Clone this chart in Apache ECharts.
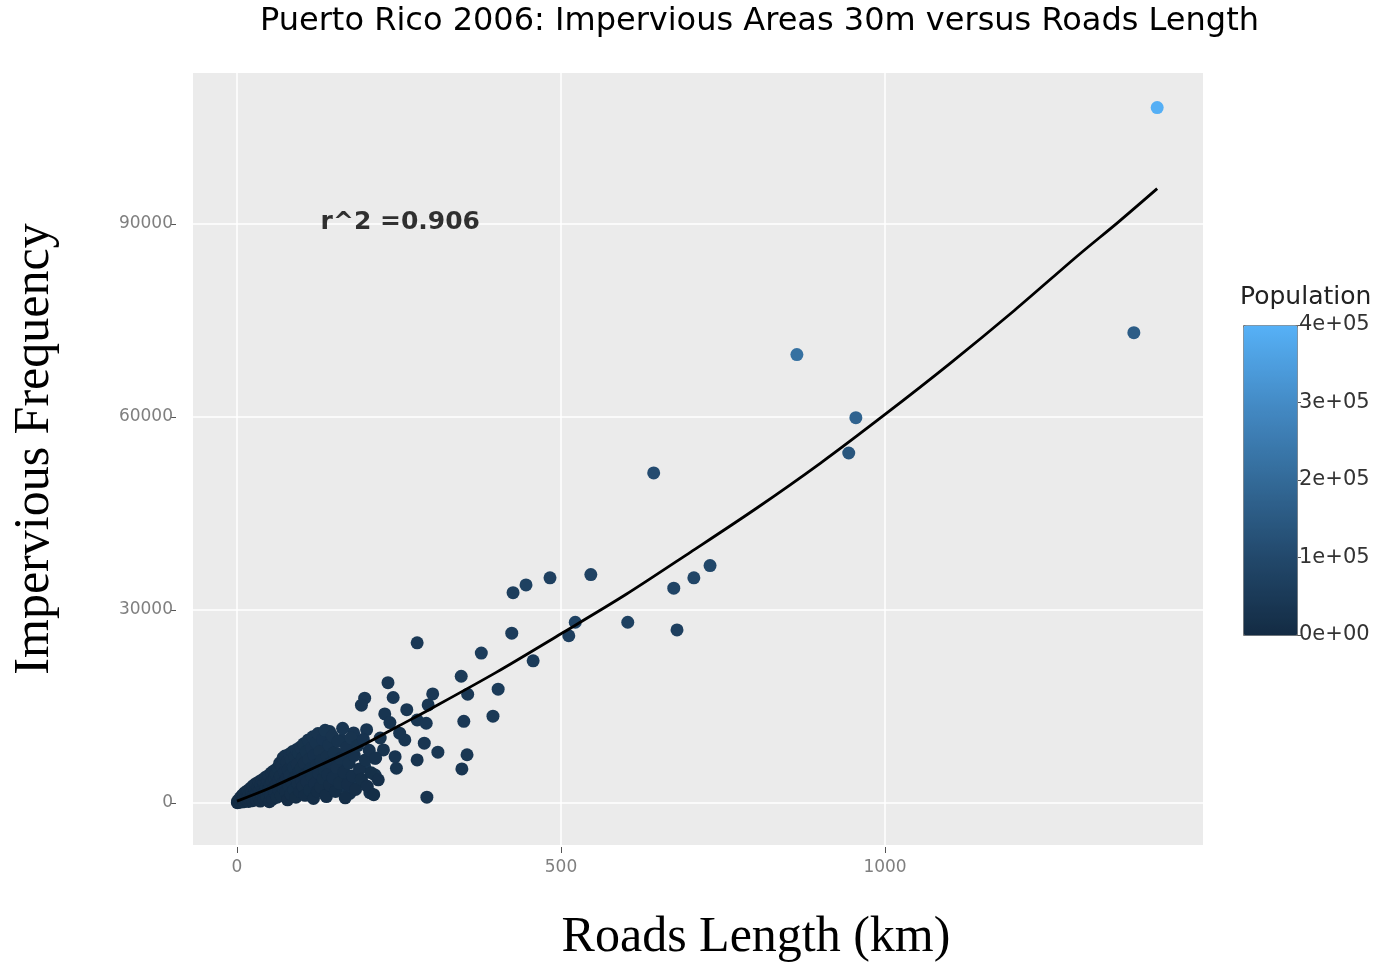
<!DOCTYPE html>
<html><head><meta charset="utf-8">
<script src="https://cdn.jsdelivr.net/npm/echarts@6/dist/echarts.min.js"></script>
<style>html,body{margin:0;padding:0;background:#fff}#c{width:1384px;height:962px}</style>
</head><body><div id="c"></div>
<script>
// ---- data ----
const roadsKm = [
  // large / outlying municipalities
  1420,1384,864,955,944,643,730,705,674,679,603,546,483,446,426,424,522,512,457,377,346,403,356,395,350,355,347,310,278,293,
  // middle band
  233,241,197,192,302,295,262,228,236,278,292,259,289,278,246,244,197,213,187,205,164,159,143,180,200,221,226,174,154,159,251,213,148,128,108,113,143,128,113,138,174,97,100,77,120,162,
  // dense cluster near the origin
  0.5,1,2,3,4,5,6,7,8,9,10,11,12,13,14,15,16,17,18,19,20,
  21,22,23,24,25,26,27,28,29,30,31,32,33,34,35,36,37,38,39,40,41,42,43,44,45,46,47,48,49,50,
  51,52,53,54,55,56,57,58,59,60,61,62,63,64,65,66,67,68,69,70,71,72,73,74,75,76,77,78,79,80,81,82,83,84,85,86,87,88,89,90,91,92,93,94,95,96,97,98,99,100,
  101,102,103,104,105,106,107,108,110,111,112,113,115,116,117,118,119,120,122,123,124,125,126,128,129,130,132,133,135,136,137,139,140,142,143,145,147,148,150,
  152,154,156,158,160,163,165,167,169,171,173,176,178,181,183,186,189,192,195,198,201,204,207,211,214,218
];
const imperviousFreq = [
  108100,73100,69700,59900,54400,51300,36900,35000,33400,26900,28100,35500,35000,33900,32700,26400,28100,26000,22100,23300,19700,17700,16900,13500,12700,7500,5300,7900,24900,900,
  18700,16400,16300,15200,16950,15250,14500,13850,12500,12900,12400,9800,9300,6700,5400,7200,5650,4350,3300,1600,4100,2550,11100,10900,11400,10100,8250,7700,7700,5150,10850,6950,6700,8750,9300,7750,3600,2550,1500,1000,1500,5150,8500,7200,9000,9800,
  50,300,100,500,250,800,150,600,1200,350,900,200,1600,700,1100,400,1900,900,250,1400,600,
  2300,1000,1700,350,2700,1300,750,2100,3000,500,1600,2500,1000,3300,1900,300,2800,1300,3600,2200,700,3100,1600,4000,2500,1000,3500,1900,4300,200,
  2800,1300,4700,3400,600,2200,5000,3900,1600,4500,2900,900,5500,3500,2000,6200,4200,1200,5800,3000,7000,2300,4800,7300,1700,3800,6400,500,5200,2700,7600,4300,1400,6800,3200,8000,5600,2100,7200,4000,900,8300,6000,3000,7800,4800,1800,8700,5400,3500,
  7000,2600,9200,6200,1200,4400,8000,3300,9800,6800,2000,5300,8600,4000,10300,700,7400,3000,9400,5900,1800,10800,4600,8000,2500,6600,9900,3800,5200,11300,1200,7300,4400,9000,2800,6200,10400,3900,7800,
  1800,5500,9600,3100,6900,11600,4800,800,8600,2900,6200,10100,4200,7400,2100,8900,5300,3700,9900,6700,2600,8200,4700,1300,7000,3600
];
const population = [
  395000,160000,220000,180000,140000,110000,95000,90000,85000,70000,75000,80000,70000,75000,65000,60000,80000,70000,55000,60000,50000,55000,45000,50000,45000,40000,35000,40000,45000,30000,
  40000,42000,38000,36000,45000,40000,38000,35000,36000,40000,42000,35000,38000,30000,28000,32000,30000,26000,25000,22000,24000,20000,30000,32000,34000,33000,30000,28000,27000,25000,36000,28000,26000,24000,27000,23000,18000,16000,12000,14000,15000,20000,26000,22000,25000,29000,
  1500,2500,1800,3000,2200,4000,2000,3500,5000,2800,4200,2400,6000,3800,4500,3000,7000,4300,2600,5200,3600,
  8000,5000,6500,3200,9000,5800,4100,7500,10000,3900,6800,8600,5300,11000,7200,3400,9500,6000,12000,8100,4700,10500,6900,13000,8800,5600,11500,7700,14000,3800,
  9500,6500,14000,11000,4800,8200,15000,12500,7000,13500,10000,5500,16000,11800,8500,18000,13000,6200,17000,10500,20000,9000,14500,21000,7800,12000,18500,4500,15500,9800,22000,13800,7200,19500,11200,23000,16500,8800,21000,12800,6000,24000,17500,10800,22500,14800,8000,25000,16000,12000,
  20000,10000,26000,18500,7500,14000,23000,12000,28000,19500,9000,16500,25000,13500,30000,6500,21500,11500,27000,17800,8500,31000,15000,23500,10500,19000,29000,13000,16000,33000,7000,21000,14500,26500,11000,18000,30500,13800,22500,
  9500,17000,27500,12500,20500,34000,15500,7000,25500,11500,19000,30000,14800,22000,10200,26000,17200,13200,29000,20800,11800,24500,16200,8800,21800,14000
];
// fitted curve
const fitRoadsKm    = [0, 50, 100, 150, 200, 250, 300, 400, 500, 600, 700, 800, 900, 1000, 1100, 1200, 1300, 1360, 1420];
const fitImpervious = [300, 2300, 4600, 6900, 9300, 12000, 14700, 20300, 26300, 32400, 39000, 45700, 52800, 60400, 68300, 76600, 85300, 90300, 95500];
const xTicks = [0, 500, 1000];
const yTicks = [0, 30000, 60000, 90000];
const popTicks = [0, 100000, 200000, 300000, 400000];
const titleText = 'Puerto Rico 2006: Impervious Areas 30m versus Roads Length';
const r2Text = 'r^2 =0.906';
const r2Pos = [252, 90300];

const points = roadsKm.map((x, i) => [x, imperviousFreq[i], population[i]]);
const fitLine = fitRoadsKm.map((x, i) => [x, fitImpervious[i]]);

function sci(v) {
  if (v === 0) return '0e+00';
  const e = Math.floor(Math.log10(v));
  const m = Math.round(v / Math.pow(10, e) * 100) / 100;
  return m + 'e+' + (e < 10 ? '0' : '') + e;
}
const plain = v => String(v);

const chart = echarts.init(document.getElementById('c'), null, { renderer: 'canvas' });
chart.setOption({
  backgroundColor: '#ffffff',
  animation: false,
  title: [
    { text: titleText, left: 260, top: 6, padding: 0,
      textStyle: { fontFamily: 'DejaVu Sans', fontSize: 32, fontWeight: 'normal', color: '#000' } },
    { text: 'Population', left: 1240, top: 285, padding: 0,
      textStyle: { fontFamily: 'DejaVu Sans', fontSize: 25, fontWeight: 'normal', color: '#222' } }
  ],
  grid: [
    { left: 193, right: 181, top: 73, bottom: 117, show: true, backgroundColor: '#EBEBEB', borderWidth: 0,
      containLabel: false, outerBoundsMode: 'none' },
    { left: 1243, top: 325, width: 54, height: 310, show: false, containLabel: false, outerBoundsMode: 'none' }
  ],
  xAxis: [
    { type: 'value', min: -67.9, max: 1490.7, offset: 2,
      name: 'Roads Length (km)', nameLocation: 'middle', nameGap: 66,
      nameTextStyle: { fontFamily: 'Liberation Serif', fontSize: 50, color: '#000', padding: [0, 0, 0, 116] },
      axisLine: { show: false, onZero: false },
      axisTick: { show: true, length: 6, customValues: xTicks, lineStyle: { color: '#555' } },
      axisLabel: { customValues: xTicks, formatter: plain, margin: 12, color: '#7f7f7f', fontFamily: 'DejaVu Sans', fontSize: 17 },
      splitLine: { show: true, lineStyle: { color: '#ffffff', width: 1.5 } } },
    { gridIndex: 1, type: 'value', show: false, min: 0, max: 1 }
  ],
  yAxis: [
    { type: 'value', min: -6528, max: 113470, offset: 17,
      name: 'Impervious Frequency', nameLocation: 'middle', nameGap: 116,
      nameTextStyle: { fontFamily: 'Liberation Serif', fontSize: 50, color: '#000', padding: [0, 0, 0, 20] },
      axisLine: { show: false, onZero: false },
      axisTick: { show: true, length: 5, customValues: yTicks, lineStyle: { color: '#555' } },
      axisLabel: { customValues: yTicks, formatter: plain, margin: 3, color: '#7f7f7f', fontFamily: 'DejaVu Sans', fontSize: 17 },
      splitLine: { show: true, lineStyle: { color: '#ffffff', width: 1.5 } } },
    { gridIndex: 1, type: 'value', min: 0, max: 400000, position: 'right',
      axisLine: { show: false, onZero: false },
      axisTick: { show: true, length: 4, customValues: popTicks, lineStyle: { color: '#555' } },
      axisLabel: { customValues: popTicks, formatter: sci, margin: 2, color: '#333', fontFamily: 'DejaVu Sans', fontSize: 21 },
      splitLine: { show: false } }
  ],
  visualMap: {
    type: 'continuous', min: 0, max: 400000, dimension: 2, seriesIndex: 0,
    left: 1243, top: 325, itemWidth: 54, itemHeight: 310, padding: 0,
    text: null, calculable: false, hoverLink: false,
    borderColor: '#777', borderWidth: 1,
    inRange: { color: ['#132B43', '#22486B', '#336A98', '#448BC6', '#56B1F7'] }
  },
  series: [
    { type: 'scatter', data: points, symbolSize: 13, z: 3, itemStyle: { opacity: 1 } },
    { type: 'line', data: fitLine, smooth: 0.3, showSymbol: false, z: 4,
      lineStyle: { color: '#000', width: 2.8 } },
    { type: 'scatter', data: [r2Pos], symbolSize: 1, silent: true, z: 5,
      itemStyle: { color: 'rgba(0,0,0,0)' },
      label: { show: true, position: 'inside', formatter: r2Text, fontFamily: 'DejaVu Sans', fontWeight: 'bold', fontSize: 25, color: '#000' } }
  ]
});
</script>
</body></html>
